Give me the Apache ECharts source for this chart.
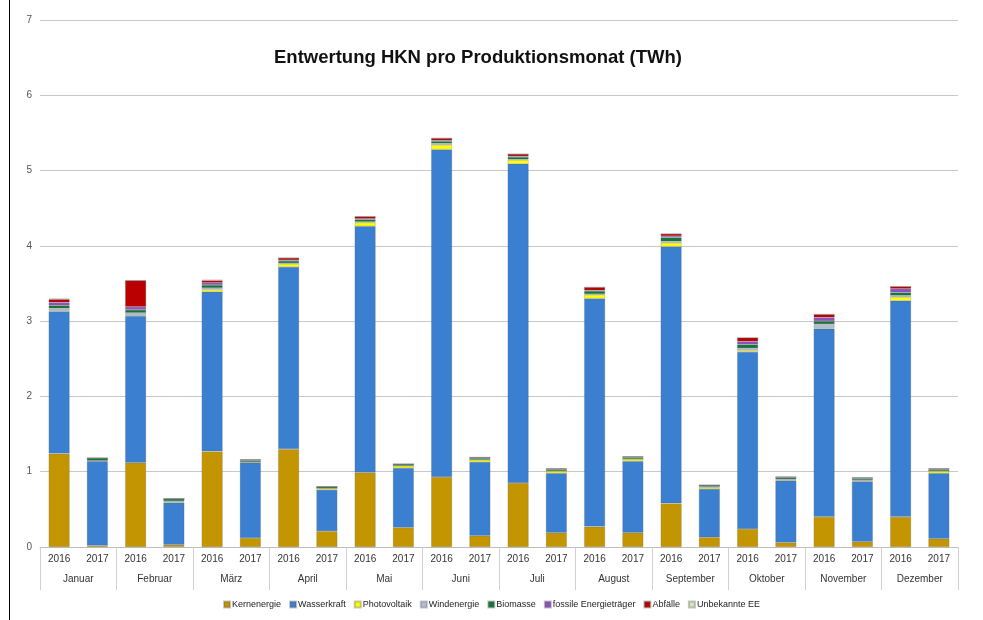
<!DOCTYPE html>
<html>
<head>
<meta charset="utf-8">
<script src="https://cdn.jsdelivr.net/npm/echarts@6/dist/echarts.min.js"></script>
<style>
  html, body { margin: 0; padding: 0; background: #fff; }
  #chart { width: 983px; height: 620px; }
</style>
</head>
<body>
<div id="chart"></div>
<script>
// Monate und Jahre
var months = ['Januar', 'Februar', 'März', 'April', 'Mai', 'Juni', 'Juli', 'August', 'September', 'Oktober', 'November', 'Dezember'];
var years = [];
for (var i = 0; i < months.length; i++) { years.push('2016', '2017'); }

// Werte in TWh, je Monat 2016 / 2017
var kernenergie = [1.24, 0.02, 1.12, 0.03, 1.27, 0.12, 1.30, 0.21, 0.99, 0.26, 0.93, 0.15, 0.85, 0.19, 0.27, 0.19, 0.58, 0.13, 0.24, 0.06, 0.40, 0.07, 0.40, 0.11];
var wasserkraft = [1.89, 1.12, 1.95, 0.56, 2.12, 1.00, 2.42, 0.55, 3.27, 0.79, 4.35, 0.98, 4.24, 0.79, 3.03, 0.95, 3.41, 0.64, 2.35, 0.82, 2.50, 0.80, 2.87, 0.87];
var photovoltaik = [0.01, 0.01, 0.01, 0.01, 0.03, 0.01, 0.04, 0.02, 0.05, 0.03, 0.06, 0.03, 0.05, 0.03, 0.05, 0.03, 0.05, 0.02, 0.02, 0.01, 0.01, 0.01, 0.05, 0.03];
var windenergie = [0.03, 0.00, 0.03, 0.01, 0.02, 0.00, 0.01, 0.00, 0.01, 0.00, 0.02, 0.00, 0.01, 0.00, 0.01, 0.00, 0.02, 0.01, 0.03, 0.01, 0.05, 0.01, 0.02, 0.00];
var biomasse = [0.04, 0.03, 0.04, 0.03, 0.04, 0.02, 0.03, 0.02, 0.03, 0.02, 0.03, 0.02, 0.03, 0.02, 0.04, 0.02, 0.05, 0.02, 0.05, 0.02, 0.04, 0.02, 0.04, 0.02];
var fossile = [0.04, 0.00, 0.04, 0.00, 0.03, 0.01, 0.01, 0.00, 0.01, 0.00, 0.01, 0.01, 0.01, 0.01, 0.01, 0.01, 0.02, 0.00, 0.04, 0.01, 0.05, 0.01, 0.05, 0.01];
var abfaelle = [0.04, 0.00, 0.35, 0.00, 0.03, 0.00, 0.03, 0.00, 0.03, 0.00, 0.03, 0.00, 0.03, 0.00, 0.04, 0.00, 0.03, 0.00, 0.05, 0.00, 0.04, 0.00, 0.03, 0.00];
var unbekannt = [0.01, 0.00, 0.00, 0.00, 0.01, 0.00, 0.00, 0.00, 0.00, 0.00, 0.00, 0.00, 0.00, 0.00, 0.00, 0.00, 0.00, 0.00, 0.00, 0.00, 0.00, 0.00, 0.00, 0.00];

var seriesNames = ['Kernenergie', 'Wasserkraft', 'Photovoltaik', 'Windenergie', 'Biomasse', 'fossile Energieträger', 'Abfälle', 'Unbekannte EE'];
var seriesData = [kernenergie, wasserkraft, photovoltaik, windenergie, biomasse, fossile, abfaelle, unbekannt];
var colors = ['#c39500', '#3b7fd0', '#ffff00', '#b3bfd3', '#12783a', '#9450c2', '#bb0000', '#d6e4b8'];

var series = [];
for (var s = 0; s < seriesNames.length; s++) {
  series.push({
    name: seriesNames[s],
    type: 'bar',
    stack: 'total',
    xAxisIndex: 0,
    barWidth: 21,
    data: seriesData[s],
    itemStyle: { color: colors[s], borderColor: 'rgba(90,90,90,0.35)', borderWidth: 0.6 },
    emphasis: { disabled: true }
  });
}

var chart = echarts.init(document.getElementById('chart'));
chart.setOption({
  animation: false,
  color: colors,
  textStyle: { fontFamily: 'Liberation Sans, Arial, sans-serif' },
  title: {
    text: 'Entwertung HKN pro Produktionsmonat (TWh)',
    left: 269,
    top: 43,
    textStyle: { fontSize: 18.5, fontWeight: 'bold', color: '#111' }
  },
  legend: {
    data: seriesNames,
    left: 'center',
    top: 595,
    icon: 'rect',
    itemWidth: 6,
    itemHeight: 6,
    itemGap: 8,
    textStyle: { fontSize: 9, color: '#222', padding: [0, 0, 0, -3] }
  },
  grid: { left: 40, right: 25, top: 20, bottom: 73 },
  xAxis: [
    {
      type: 'category',
      data: years,
      position: 'bottom',
      axisLine: { lineStyle: { color: '#bdbdbd' } },
      axisTick: { show: false },
      axisLabel: { fontSize: 10, color: '#333', margin: 7, interval: 0 }
    },
    {
      type: 'category',
      data: months,
      position: 'bottom',
      axisLine: { show: false },
      axisTick: { show: true, length: 43, lineStyle: { color: '#d0d0d0' } },
      axisLabel: { fontSize: 10, color: '#333', margin: 27, interval: 0 }
    }
  ],
  yAxis: {
    type: 'value',
    min: 0,
    max: 7,
    interval: 1,
    axisLine: { show: false },
    axisTick: { show: false },
    axisLabel: { fontSize: 10, color: '#555', margin: 8 },
    splitLine: { lineStyle: { color: '#c8c8c8' } }
  },
  graphic: [{
    type: 'line',
    shape: { x1: 9.5, y1: 0, x2: 9.5, y2: 620 },
    style: { stroke: '#000', lineWidth: 1 }
  }],
  series: series
});
</script>
</body>
</html>
